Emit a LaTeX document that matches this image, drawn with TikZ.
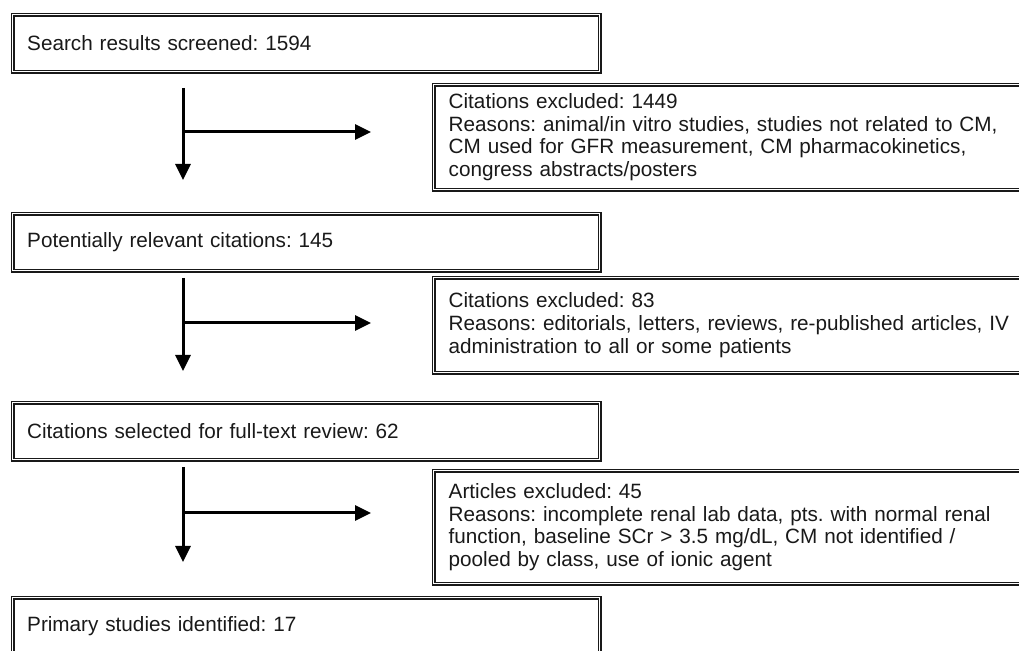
\documentclass[tikz,border=0pt]{standalone}
\usepackage{fontspec}
\setmainfont{Liberation Sans}
\usetikzlibrary{arrows.meta}
\frenchspacing

\begin{document}
\begin{tikzpicture}[x=0.5pt,y=-0.5pt,
	stage/.style={draw=black!90, double=white, double distance=0.6pt, line width=0.7pt,
		anchor=north west, minimum width=293.5pt, minimum height=28.5pt,
		inner xsep=7pt, text width=279pt, align=left, text=black!90,
		font=\fontsize{10.35}{11.3}\selectfont},
	excl/.style={stage, minimum width=304pt, text width=289pt},
	flow/.style={line width=1.5pt, -{Triangle[length=8pt,width=7.5pt]}}]

	\useasboundingbox (0,0) rectangle (1019,651);

	% main stages
	\node [stage] (screened) at (12,14)  {Search results screened: 1594};
	\node [stage] (relevant) at (12,213) {Potentially relevant citations: 145};
	\node [stage] (fulltext) at (12,402) {Citations selected for full-text review: 62};
	\node [stage] (primary)  at (12,597) {Primary studies identified: 17};

	% exclusions
	\node [excl, minimum height=52.5pt] (excl1) at (433,84)
		{Citations excluded: 1449\\
		 Reasons: animal/in vitro studies, studies not related to CM,\\
		 CM used for GFR measurement, CM pharmacokinetics,\\
		 congress abstracts/posters};
	\node [excl, minimum height=47.5pt] (excl2) at (433,277)
		{Citations excluded: 83\\
		 Reasons: editorials, letters, reviews, re-published articles, IV\\
		 administration to all or some patients};
	\node [excl, minimum height=56.5pt] (excl3) at (433,470)
		{Articles excluded: 45\\
		 Reasons: incomplete renal lab data, pts. with normal renal\\
		 function, baseline SCr > 3.5 mg/dL, CM not identified /\\
		 pooled by class, use of ionic agent};

	% arrows
	\coordinate (top1) at (183,88);  \coordinate (tip1) at (183,180);
	\coordinate (mid1) at (183,132); \coordinate (out1) at (371,132);
	\coordinate (top2) at (183,278); \coordinate (tip2) at (183,371);
	\coordinate (mid2) at (183,323); \coordinate (out2) at (371,323);
	\coordinate (top3) at (183,467); \coordinate (tip3) at (183,562);
	\coordinate (mid3) at (183,513); \coordinate (out3) at (371,513);

	\draw [flow] (top1) -- (tip1);
	\draw [flow] (mid1) -- (out1);
	\draw [flow] (top2) -- (tip2);
	\draw [flow] (mid2) -- (out2);
	\draw [flow] (top3) -- (tip3);
	\draw [flow] (mid3) -- (out3);
\end{tikzpicture}
\end{document}
